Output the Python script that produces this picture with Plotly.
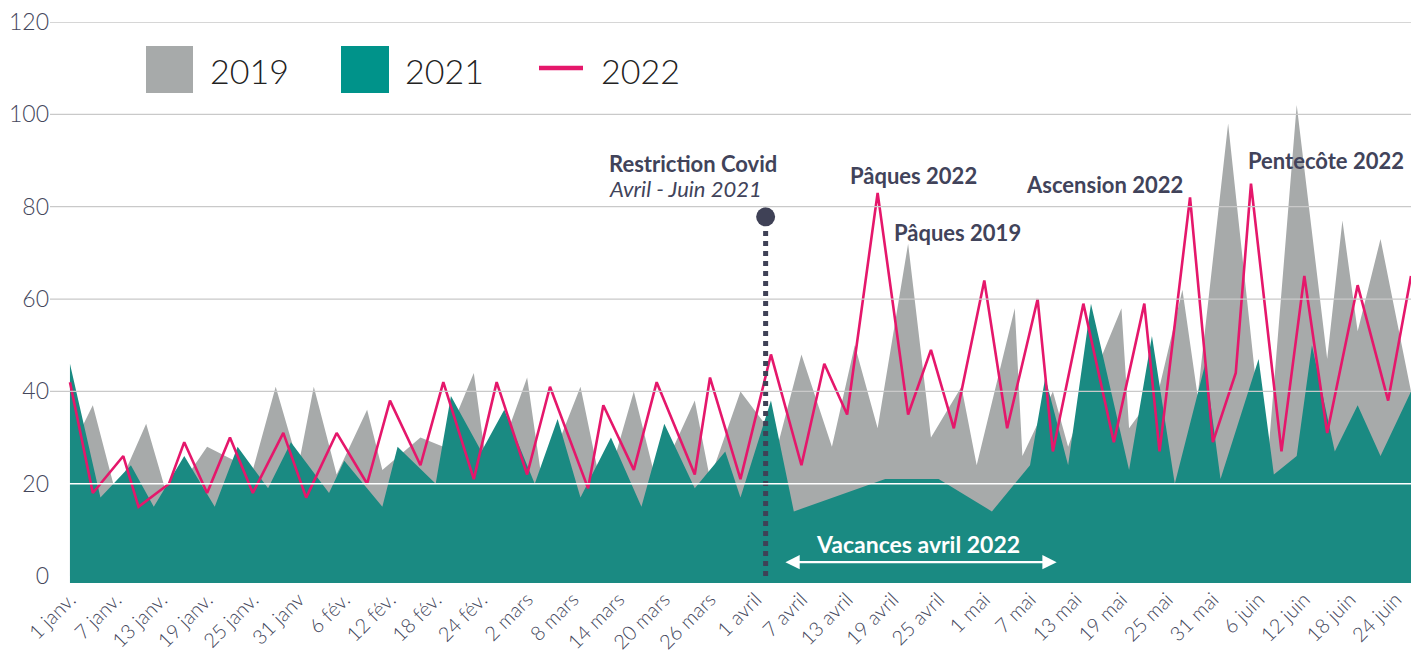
import plotly.graph_objects as go

# jours depuis le 1er janvier (axe commun aux trois années)
jours_2019 = [0, 3, 6, 10, 13, 18, 24, 27, 30, 32, 35, 39, 41, 46, 49, 53, 55, 60, 62, 67,
              70, 74, 77, 82, 84, 88, 93, 96, 100, 103, 106, 110, 113, 117, 119, 124, 125, 129, 131, 134,
              138, 139, 143, 146, 148, 152, 157, 161, 165, 167, 169, 172, 176]
val_2019 = [27, 37, 18, 33, 16, 28, 23, 41, 24, 41, 22, 36, 23, 30, 28, 44, 20, 43, 20, 41,
            17, 40, 20, 38, 21, 40, 29, 48, 28, 50, 32, 72, 30, 41, 24, 58, 26, 40, 28, 42,
            58, 32, 41, 62, 39, 98, 21, 102, 47, 77, 53, 73, 40]

jours_2021 = [0, 4, 8, 11, 15, 19, 22, 26, 29, 34, 36, 41, 43, 48, 50, 54, 57, 61, 64, 67,
              71, 75, 78, 82, 86, 88, 92, 95, 107, 114, 121, 126, 128, 131, 134, 139, 142, 145, 149, 151,
              156, 158, 161, 163, 166, 169, 172, 176]
val_2021 = [46, 17, 24, 15, 26, 15, 28, 19, 29, 18, 25, 15, 28, 20, 39, 27, 36, 20, 34, 17,
            30, 15, 33, 19, 27, 17, 38, 14, 21, 21, 14, 24, 43, 24, 59, 23, 52, 20, 46, 21,
            47, 22, 26, 50, 27, 37, 26, 40]

jours_2022 = [0, 3, 7, 9, 13, 15, 18, 21, 24, 28, 31, 35, 39, 42, 46, 49, 53, 56, 60, 63,
              68, 70, 74, 77, 82, 84, 88, 92, 96, 99, 102, 106, 110, 113, 116, 120, 123, 127, 129, 133,
              137, 141, 143, 147, 150, 153, 155, 159, 162, 165, 169, 173, 176]
val_2022 = [42, 18, 26, 15, 20, 29, 18, 30, 18, 31, 17, 31, 20, 38, 24, 42, 21, 42, 22, 41,
            19, 37, 23, 42, 22, 43, 21, 48, 24, 46, 35, 83, 35, 49, 32, 64, 32, 60, 27, 59,
            29, 59, 27, 82, 29, 44, 85, 27, 65, 31, 63, 38, 65]

tick_jours = list(range(0, 175, 6))
tick_labels = ['1 janv.', '7 janv.', '13 janv.', '19 janv.', '25 janv.', '31 janv', '6 fév.',
               '12 fév.', '18 fév.', '24 fév.', '2 mars', '8 mars', '14 mars', '20 mars',
               '26 mars', '1 avril', '7 avril', '13 avril', '19 avril', '25 avril', '1 mai',
               '7 mai', '13 mai', '19 mai', '25 mai', '31 mai', '6 juin', '12 juin', '18 juin',
               '24 juin']
y_ticks = [0, 20, 40, 60, 80, 100, 120]

GRIS = '#a7aaaa'
VERT = '#1a8a82'
VERT_LEG = '#00938a'
ROSE = '#e5176b'
TEXTE = '#41435a'
TICKS = '#44475c'
FONT = 'Lato'

restriction_jour = 91.3
restriction_haut = 77.8

W, H = 1411, 655
L, R, T, B = 50, 0, 22, 72


# pixels -> coordonnées papier (légende dessinée à la main)
def px(x):
    return (x - L) / (W - L - R)


def py(y):
    return (H - B - y) / (H - B - T)


fig = go.Figure()

fig.add_trace(go.Scatter(x=jours_2019, y=val_2019, mode='lines', fill='tozeroy',
                         fillcolor=GRIS, line=dict(width=0, color=GRIS), name='2019'))
fig.add_trace(go.Scatter(x=jours_2021, y=val_2021, mode='lines', fill='tozeroy',
                         fillcolor=VERT, line=dict(width=0, color=VERT), name='2021'))
fig.add_trace(go.Scatter(x=jours_2022, y=val_2022, mode='lines',
                         line=dict(width=2.6, color=ROSE), name='2022'))

# restriction covid : ligne pointillée + point
fig.add_trace(go.Scatter(x=[restriction_jour, restriction_jour], y=[0, restriction_haut],
                         mode='lines', line=dict(color='#3f4156', width=5, dash='dot')))
fig.add_trace(go.Scatter(x=[restriction_jour], y=[restriction_haut], mode='markers',
                         marker=dict(color='#3f4156', size=19)))

shapes = []
# petit liseré vert sous le zéro
shapes.append(dict(type='rect', xref='x', yref='y', x0=jours_2021[0], x1=jours_2021[-1],
                   y0=-1.5, y1=0, fillcolor=VERT, line=dict(width=0), layer='below'))
# grille au-dessus des aires
for v in y_ticks[2:]:
    shapes.append(dict(type='line', xref='paper', x0=0, x1=1, yref='y', y0=v, y1=v,
                       line=dict(color='#c9c9c9', width=1.3), layer='above'))
shapes.append(dict(type='line', xref='paper', x0=0, x1=1, yref='y', y0=20, y1=20,
                   line=dict(color='white', width=1.3), layer='above'))

# légende
shapes.append(dict(type='rect', xref='paper', yref='paper', x0=px(146), x1=px(193),
                   y0=py(93), y1=py(46), fillcolor=GRIS, line=dict(width=0)))
shapes.append(dict(type='rect', xref='paper', yref='paper', x0=px(341), x1=px(389),
                   y0=py(93), y1=py(46), fillcolor=VERT_LEG, line=dict(width=0)))
shapes.append(dict(type='line', xref='paper', yref='paper', x0=px(539), x1=px(583),
                   y0=py(68), y1=py(68), line=dict(color=ROSE, width=4.5)))

annotations = []
for txt, x in [('2019', 208), ('2021', 403), ('2022', 599)]:
    annotations.append(dict(text=txt, xref='paper', yref='paper', x=px(x), y=py(70),
                            xanchor='left', yanchor='middle', showarrow=False,
                            font=dict(family=FONT, size=34, color='#222222', weight=300)))

annotations.append(dict(text='<b>Restriction Covid</b>', x=70.5, y=89.3, xanchor='left',
                        showarrow=False, font=dict(family=FONT, size=22, color=TEXTE)))
annotations.append(dict(text='<i>Avril - Juin 2021</i>', x=70.5, y=83.9, xanchor='left',
                        showarrow=False, font=dict(family=FONT, size=22, color=TEXTE)))
for txt, x, y in [('Pâques 2022', 110.7, 86.7), ('Pâques 2019', 116.5, 74.5),
                  ('Ascension 2022', 135.8, 84.9), ('Pentecôte 2022', 164.8, 90.1)]:
    annotations.append(dict(text='<b>' + txt + '</b>', x=x, y=y, showarrow=False,
                            font=dict(family=FONT, size=22, color=TEXTE)))

# vacances avril 2022
annotations.append(dict(text='<b>Vacances avril 2022</b>', x=111.3, y=6.9, showarrow=False,
                        font=dict(family=FONT, size=23, color='white')))
annotations.append(dict(x=129.5, y=3.0, ax=93.7, ay=3.0, axref='x', ayref='y', text='',
                        showarrow=True, arrowhead=2, arrowside='end+start', arrowsize=1.3,
                        arrowwidth=2.2, arrowcolor='white'))

fig.update_layout(
    width=W, height=H,
    margin=dict(l=L, r=R, t=T, b=B),
    plot_bgcolor='white', paper_bgcolor='white',
    showlegend=False,
    shapes=shapes, annotations=annotations,
    xaxis=dict(range=[-2.62, 176], tickvals=tick_jours, ticktext=tick_labels, tickangle=-45,
               showgrid=False, zeroline=False, showline=False, ticks='',
               tickfont=dict(family=FONT, size=20, color=TICKS, weight=300),
               ticklabeloverflow='allow', automargin=False),
    yaxis=dict(range=[-1.5, 120], tickvals=y_ticks, showgrid=False, zeroline=False,
               showline=False, ticks='',
               tickfont=dict(family=FONT, size=23, color=TICKS, weight=300),
               ticklabeloverflow='allow', automargin=False),
)

# pas de marge autour du graphique dans la page, pas de barre d'outils
fig.write_html('out.html', config={'displayModeBar': False},
               post_script="document.body.style.margin='0';")
